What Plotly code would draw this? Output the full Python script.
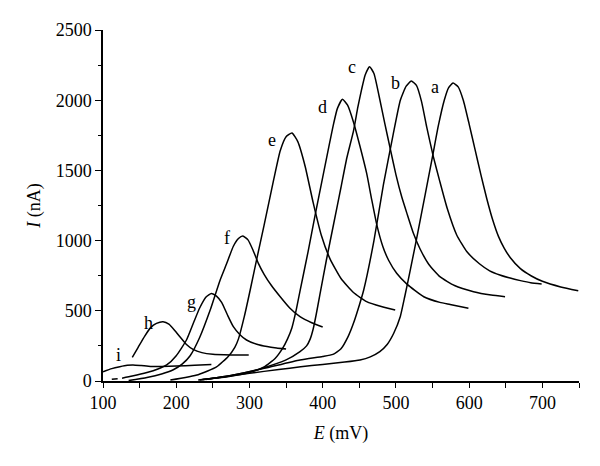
import plotly.graph_objects as go

# Curve data (E in mV, I in nA)
E_a = [232, 260, 300, 340, 370, 400, 430, 451, 465, 478, 488, 497, 506, 512, 520, 530, 540, 550, 558, 566, 572, 578, 585, 592, 600, 608, 616, 624, 632, 640, 648, 656, 670, 685, 700, 725, 749]
I_a = [8, 25, 55, 82, 101, 118, 135, 150, 172, 209, 260, 340, 460, 600, 800, 1060, 1330, 1600, 1820, 2000, 2090, 2122, 2095, 2000, 1830, 1650, 1470, 1300, 1150, 1030, 945, 880, 800, 748, 710, 670, 643]

E_b = [240, 280, 320, 369, 400, 414, 425, 435, 442, 450, 456, 470, 483, 496, 506, 514, 521, 528, 535, 542, 551, 560, 570, 583, 597, 614, 628, 642, 656, 670, 684, 699]
I_b = [10, 45, 90, 150, 175, 190, 230, 320, 411, 540, 648, 1000, 1400, 1750, 2000, 2100, 2137, 2105, 1990, 1810, 1600, 1420, 1230, 1040, 920, 835, 785, 755, 733, 715, 700, 691]

E_c = [236, 280, 320, 350, 369, 378, 383, 387, 391, 396, 405, 415, 425, 433, 442, 448, 453, 458, 464, 470, 477, 485, 492, 500, 508, 515, 524, 533, 545, 560, 580, 606, 630, 649]
I_c = [10, 45, 95, 150, 209, 250, 300, 370, 470, 610, 860, 1120, 1380, 1590, 1780, 1950, 2073, 2180, 2239, 2190, 2030, 1830, 1660, 1470, 1310, 1194, 1050, 940, 830, 743, 680, 636, 612, 600]

E_d = [230, 270, 300, 320, 335, 345, 352, 358, 364, 369, 380, 390, 400, 410, 415, 420, 427, 434, 442, 451, 460, 467, 474, 482, 490, 501, 515, 538, 560, 574, 599]
I_d = [7, 30, 60, 100, 160, 230, 300, 380, 510, 640, 920, 1190, 1450, 1710, 1835, 1940, 2006, 1965, 1845, 1670, 1480, 1290, 1110, 960, 860, 767, 690, 600, 560, 545, 518]

E_e = [192, 230, 255, 271, 280, 285, 293, 301, 310, 320, 333, 342, 350, 358, 366, 376, 387, 398, 410, 425, 442, 460, 480, 499]
I_e = [7, 45, 100, 175, 240, 300, 460, 648, 870, 1110, 1432, 1640, 1740, 1766, 1705, 1530, 1270, 1040, 870, 730, 630, 565, 530, 506]

E_f = [135, 160, 180, 196, 208, 219, 232, 246, 260, 269, 278, 285, 291, 298, 305, 312, 320, 330, 342, 355, 369, 385, 400]
I_f = [3, 25, 50, 80, 120, 180, 310, 500, 720, 838, 960, 1015, 1033, 1005, 930, 840, 760, 680, 600, 520, 458, 415, 385]

E_g = [112, 120, None, 126, 140, 160, 175, 187, 200, 214, 224, 232, 241, 248, 255, 262, 270, 278, 287, 296, 310, 324, 337, 350]
I_g = [12, 16, None, 20, 35, 60, 85, 114, 180, 292, 420, 520, 600, 624, 605, 560, 470, 387, 330, 292, 262, 245, 235, 228]

E_h = [140, 148, 157, 165, 173, 182, 190, 198, 205, 214, 223, 235, 250, 275, 299]
I_h = [168, 240, 320, 380, 410, 422, 405, 360, 315, 260, 225, 202, 190, 186, 185]

E_i = [100, 112, 123, 133, 141, 152, 165, 180, 200, 225, 248]
I_i = [66, 88, 102, 112, 114, 110, 104, 103, 106, 112, 118]

curves = {"a": (E_a, I_a), "b": (E_b, I_b), "c": (E_c, I_c), "d": (E_d, I_d),
          "e": (E_e, I_e), "f": (E_f, I_f), "g": (E_g, I_g), "h": (E_h, I_h), "i": (E_i, I_i)}

label_names = ["a", "b", "c", "d", "e", "f", "g", "h", "i"]
label_E = [553, 499, 440, 400, 331, 269, 221, 162, 121]
label_I = [2096, 2120, 2239, 1954, 1716, 1016, 565, 411, 185]

x_ticks = [100, 200, 300, 400, 500, 600, 700]
y_ticks = [0, 500, 1000, 1500, 2000, 2500]

FONT = "Liberation Serif"
FS = 18

fig = go.Figure()
for name, (ex, iy) in curves.items():
    fig.add_trace(go.Scatter(x=ex, y=iy, mode="lines", name=name,
                             line=dict(color="black", width=1.5, shape="spline", smoothing=0.5),
                             connectgaps=False, showlegend=False))

for n, ex, iy in zip(label_names, label_E, label_I):
    fig.add_annotation(x=ex, y=iy, text=n, showarrow=False,
                       font=dict(family=FONT, size=FS, color="black"))

# page body has an 8px margin, compensate so the plot area sits where the reference has it
fig.update_layout(
    width=600, height=466,
    margin=dict(l=95, r=29, t=22, b=93),
    paper_bgcolor="white", plot_bgcolor="white",
    font=dict(family=FONT, size=FS, color="black"),
)
fig.update_xaxes(range=[100, 750], tickvals=x_ticks, ticktext=[str(v) for v in x_ticks],
                 showgrid=False, zeroline=False, showline=True, linecolor="black", linewidth=1.5,
                 ticks="outside", ticklen=5, tickwidth=1.2, tickcolor="black",
                 minor=dict(dtick=50, tick0=100, ticks="outside", ticklen=5, tickwidth=1.2, tickcolor="black"),
                 title=dict(text="<i>E</i> (mV)", standoff=14, font=dict(family=FONT, size=FS)))
fig.update_yaxes(range=[0, 2500], tickvals=y_ticks, ticktext=[str(v) for v in y_ticks],
                 showgrid=False, zeroline=False, showline=True, linecolor="black", linewidth=1.5,
                 ticks="outside", ticklen=6, tickwidth=1.2, tickcolor="black",
                 minor=dict(dtick=250, tick0=0, ticks="outside", ticklen=3, tickwidth=1.2, tickcolor="black"),
                 title=dict(text="<i>I</i> (nA)", standoff=10, font=dict(family=FONT, size=FS)))

fig.write_html("out.html")
